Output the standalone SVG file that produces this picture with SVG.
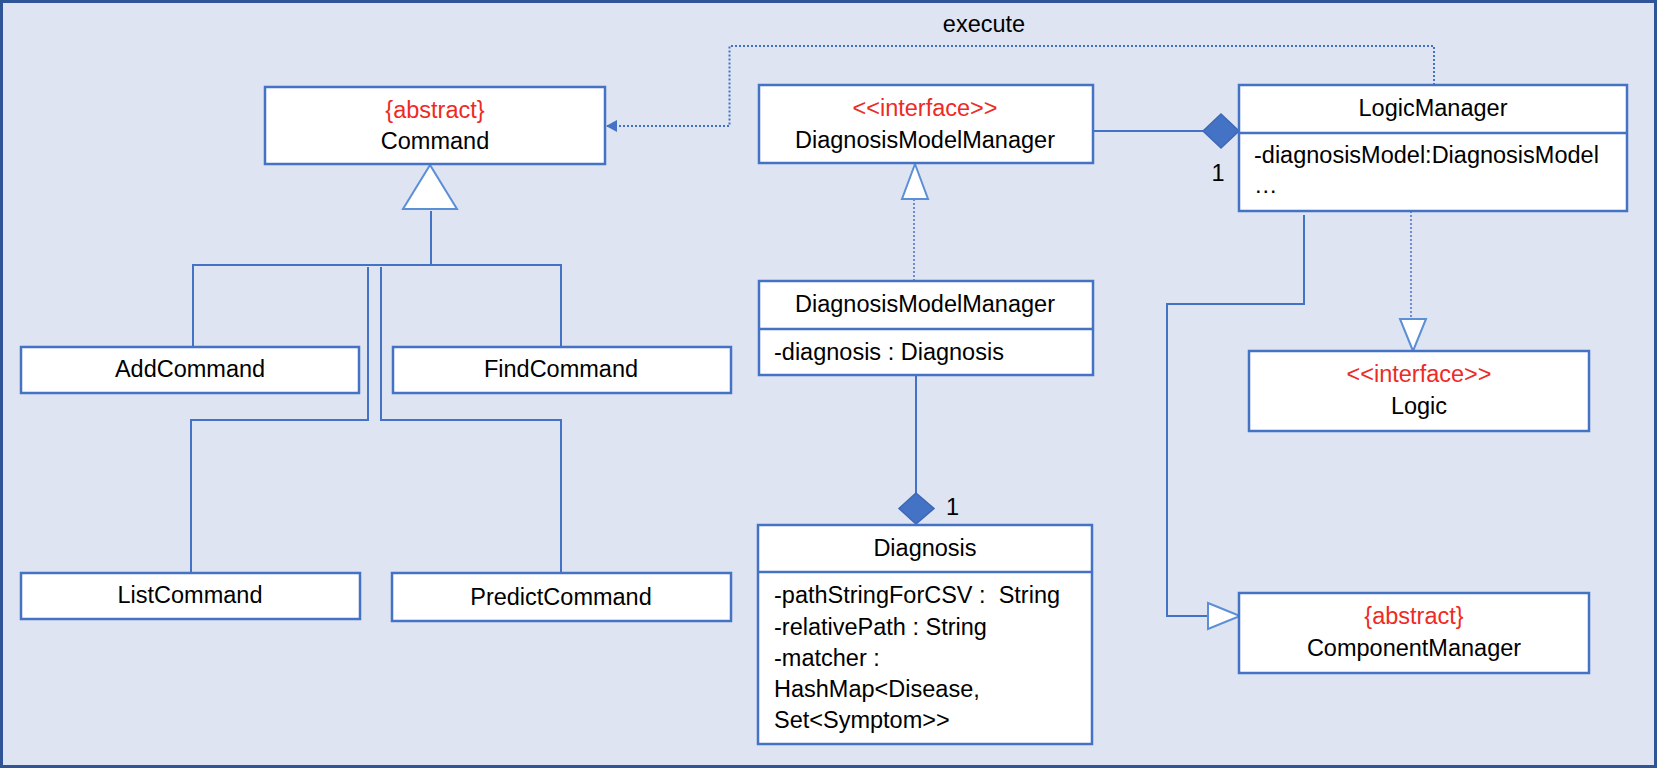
<svg xmlns="http://www.w3.org/2000/svg" width="1658" height="768" viewBox="0 0 1658 768">
<style>
.box{fill:#ffffff;stroke:#4472C4;stroke-width:2.5}
.div{stroke:#4472C4;stroke-width:2.5}
.t{font-family:"Liberation Sans",Arial,sans-serif;font-size:23.5px;fill:#000}
.c{text-anchor:middle}
.red{fill:#EE2A24}
.ln{fill:none;stroke:#4472C4;stroke-width:2}
.dot{fill:none;stroke:#4472C4;stroke-width:2;stroke-dasharray:2 2}
.tri{fill:#ffffff;stroke:#5B8FD6;stroke-width:2}
.dia{fill:#4472C4;stroke:#3D68B5;stroke-width:1.5}
</style>
<defs>
<marker id="arr" markerWidth="12" markerHeight="12" refX="11" refY="6" orient="auto" markerUnits="userSpaceOnUse">
<path d="M0,0 L11,6 L0,12 Z" fill="#4472C4"/>
</marker>
</defs>
<rect x="0" y="0" width="1658" height="768" fill="#ffffff"/>
<rect x="1.5" y="1.5" width="1654" height="765" fill="#DEE4F2" stroke="#2F5597" stroke-width="3"/>

<g id="connectors">
<!-- execute dependency -->
<polyline class="dot" points="1434,85 1434,46 729.5,46 729.5,126 606,126" marker-end="url(#arr)"/>
<text class="t c" x="984" y="32">execute</text>
<!-- generalization to Command -->
<polygon class="tri" points="430,165 403,209 457,209"/>
<line class="ln" x1="431" y1="211" x2="431" y2="265"/>
<polyline class="ln" points="193,347 193,265 561,265 561,347"/>
<polyline class="ln" points="368,267 368,420 191,420 191,573"/>
<polyline class="ln" points="381,267 381,420 561,420 561,573"/>
<!-- composition DMM interface - LogicManager -->
<line class="ln" x1="1093" y1="131" x2="1203" y2="131"/>
<polygon class="dia" points="1203,131 1221,114 1239,131 1221,148"/>
<text class="t" x="1218" y="181" text-anchor="middle">1</text>
<!-- realization DMM -> interface -->
<line class="dot" x1="914" y1="199" x2="914" y2="281" style="stroke-width:1.5"/>
<polygon class="tri" points="915,164 902,199 928,199"/>
<!-- composition DMM - Diagnosis -->
<line class="ln" x1="916" y1="375" x2="916" y2="493"/>
<polygon class="dia" points="916,493 934,508.5 916,524 899,508.5"/>
<text class="t" x="946" y="515">1</text>
<!-- LogicManager -> ComponentManager -->
<polyline class="ln" points="1304,215 1304,304 1167,304 1167,616 1208,616"/>
<polygon class="tri" points="1208,603 1240,616 1208,629"/>
<!-- LogicManager -> Logic -->
<line class="dot" x1="1411" y1="211" x2="1411" y2="319" style="stroke-width:1.5"/>
<polygon class="tri" points="1400,319 1426,319 1413,351"/>
</g>

<g id="Command">
<rect class="box" x="265" y="87" width="340" height="77"/>
<text class="t c red" x="435" y="118">{abstract}</text>
<text class="t c" x="435" y="149">Command</text>
</g>
<g id="AddCommand">
<rect class="box" x="21" y="347" width="338" height="46"/>
<text class="t c" x="190" y="377">AddCommand</text>
</g>
<g id="FindCommand">
<rect class="box" x="393" y="347" width="338" height="46"/>
<text class="t c" x="561" y="377">FindCommand</text>
</g>
<g id="ListCommand">
<rect class="box" x="21" y="573" width="339" height="46"/>
<text class="t c" x="190" y="603">ListCommand</text>
</g>
<g id="PredictCommand">
<rect class="box" x="392" y="573" width="339" height="48"/>
<text class="t c" x="561" y="605">PredictCommand</text>
</g>
<g id="IDiagnosisModelManager">
<rect class="box" x="759" y="85" width="334" height="78"/>
<text class="t c red" x="925" y="116">&lt;&lt;interface&gt;&gt;</text>
<text class="t c" x="925" y="148">DiagnosisModelManager</text>
</g>
<g id="DiagnosisModelManager">
<rect class="box" x="759" y="281" width="334" height="94"/>
<line class="div" x1="759" y1="329" x2="1093" y2="329"/>
<text class="t c" x="925" y="312">DiagnosisModelManager</text>
<text class="t" x="774" y="360">-diagnosis : Diagnosis</text>
</g>
<g id="Diagnosis">
<rect class="box" x="758" y="525" width="334" height="219"/>
<line class="div" x1="758" y1="572" x2="1092" y2="572"/>
<text class="t c" x="925" y="556">Diagnosis</text>
<text class="t" x="774" y="603" xml:space="preserve">-pathStringForCSV :  String</text>
<text class="t" x="774" y="635">-relativePath : String</text>
<text class="t" x="774" y="666">-matcher :</text>
<text class="t" x="774" y="697">HashMap&lt;Disease,</text>
<text class="t" x="774" y="728">Set&lt;Symptom&gt;&gt;</text>
</g>
<g id="LogicManager">
<rect class="box" x="1239" y="85" width="388" height="126"/>
<line class="div" x1="1239" y1="133" x2="1627" y2="133"/>
<text class="t c" x="1433" y="116">LogicManager</text>
<text class="t" x="1254" y="163">-diagnosisModel:DiagnosisModel</text>
<text class="t" x="1254" y="193">…</text>
</g>
<g id="Logic">
<rect class="box" x="1249" y="351" width="340" height="80"/>
<text class="t c red" x="1419" y="382">&lt;&lt;interface&gt;&gt;</text>
<text class="t c" x="1419" y="414">Logic</text>
</g>
<g id="ComponentManager">
<rect class="box" x="1239" y="593" width="350" height="80"/>
<text class="t c red" x="1414" y="624">{abstract}</text>
<text class="t c" x="1414" y="656">ComponentManager</text>
</g>
</svg>
